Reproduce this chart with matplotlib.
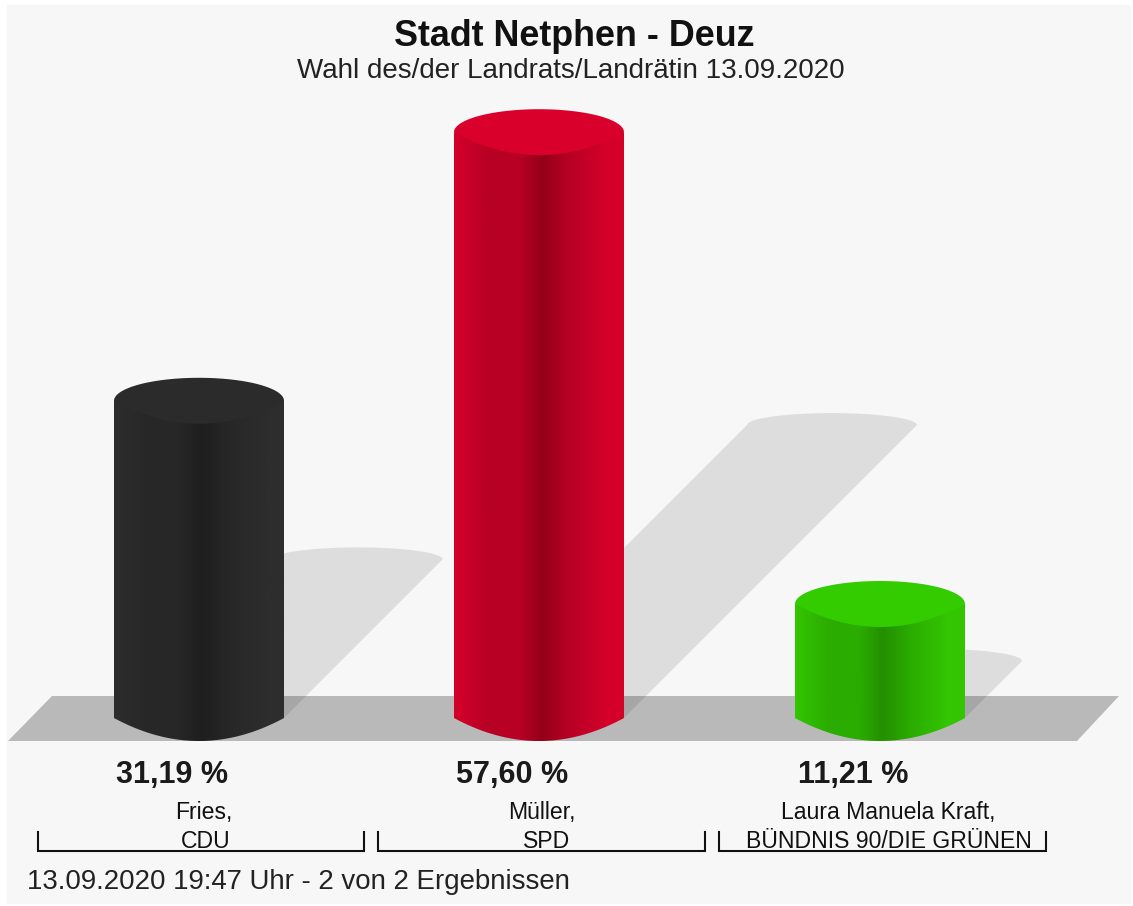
import numpy as np
import matplotlib
matplotlib.use("Agg")
import matplotlib.pyplot as plt
from matplotlib.colors import LinearSegmentedColormap
from matplotlib.patches import Polygon, PathPatch, Rectangle
from matplotlib.path import Path

title = "Stadt Netphen - Deuz"
subtitle = "Wahl des/der Landrats/Landrätin 13.09.2020"
footer = "13.09.2020 19:47 Uhr - 2 von 2 Ergebnissen"
names = ["Fries,", "Müller,", "Laura Manuela Kraft,"]
parties = ["CDU", "SPD", "BÜNDNIS 90/DIE GRÜNEN"]
values = [31.19, 57.60, 11.21]
labels = ["31,19 %", "57,60 %", "11,21 %"]
side_dark = ["#1e1e1e", "#930019", "#238f00"]
side_mid = ["#272727", "#b80025", "#2bac00"]
side_light = ["#2d2d2d", "#d4002a", "#33c600"]
cap = ["#2b2b2b", "#d9002b", "#33cc00"]

W, H = 1133, 906
PX = 10.17          # pixels per percent
Y0 = 718            # baseline pixel row
centers = [199, 539, 880]
RX, RY = 85, 23
SHADOW_RATIO = 0.5  # shadow height relative to the bar
SHADOW_RY = 12

plt.rcParams["font.family"] = ["Liberation Sans"]
fig = plt.figure(figsize=(W / 100, H / 100), dpi=100, facecolor="white")
ax = fig.add_axes([0, 0, 1, 1])
ax.axis("off")
ylim = (-(H - Y0) / PX, Y0 / PX)
ry = RY / PX


def py(p):
    return (Y0 - p) / PX


ax.add_patch(Rectangle((7, py(904)), 1124, py(5) - py(904), fc="#f7f7f7", ec="none", zorder=0))

# floor
ax.add_patch(Polygon([(8, -23 / PX), (1077, -23 / PX), (1119, 22 / PX), (52, 22 / PX)],
                     closed=True, fc="#b9b9b9", ec="none", zorder=1))

# shadows: sheared by 45 degrees, half the bar height
t_up = np.linspace(np.pi, 0, 60)
for c, v in zip(centers, values):
    h = v * SHADOW_RATIO
    dx = h * PX
    arc = np.column_stack([c + dx + RX * np.cos(t_up), h + SHADOW_RY / PX * np.sin(t_up)])
    verts = np.vstack([[(c - RX, 0)], arc, [(c + RX, 0)]])
    ax.add_patch(Polygon(verts, closed=True, fc="black", alpha=0.10, ec="none", zorder=2))

# cylinders
for c, v, d, m, l, k in zip(centers, values, side_dark, side_mid, side_light, cap):
    cmap = LinearSegmentedColormap.from_list(
        "c", [(0, l), (0.2, m), (0.38, m), (0.52, d), (0.68, m), (0.9, l), (1, l)])
    grad = np.linspace(0, 1, 256)[None, :]
    im = ax.imshow(grad, cmap=cmap, aspect="auto", extent=(c - RX, c + RX, -ry, v),
                   interpolation="bilinear", zorder=4)
    xs = np.linspace(-RX, RX, 81)
    lens = ry * (1 - (xs / RX) ** 2)
    lower = np.column_stack([c + xs, -lens])
    verts = np.vstack([[(c - RX, v)], lower, [(c + RX, v)], [(c - RX, v)]])
    codes = [Path.MOVETO] + [Path.LINETO] * (len(verts) - 2) + [Path.CLOSEPOLY]
    clip = PathPatch(Path(verts, codes), transform=ax.transData, fc="none", ec="none")
    ax.add_patch(clip)
    im.set_clip_path(clip)
    # cap: elliptical upper edge, shallow lens lower edge
    t = np.linspace(np.pi, 0, 60)
    upper = np.column_stack([c + RX * np.cos(t), v + ry * np.sin(t)])
    under = np.column_stack([c + xs[::-1], v - lens[::-1]])
    ax.add_patch(Polygon(np.vstack([upper, under]), closed=True, fc=k, ec="none", zorder=5))

ax.set_xlim(0, W)
ax.set_ylim(*ylim)

ax.text(574, py(37), title, ha="center", va="center", fontsize=25.8, fontweight="bold", color="#111111")
ax.text(571, py(71), subtitle, ha="center", va="center", fontsize=20, color="#222222")

value_x = [172, 512, 853]
for x, s in zip(value_x, labels):
    ax.text(x, py(775), s, ha="center", va="center", fontsize=22, fontweight="bold", color="#1a1a1a")

bx = [(38, 364), (378, 705), (719, 1046)]
name_x = [203.5, 542, 888]
party_x = [206, 547, 889]
for (a, b), n, p, nx, px in zip(bx, names, parties, name_x, party_x):
    ax.text(nx, py(813), n, ha="center", va="center", fontsize=16.6, color="#111111")
    ax.text(px, py(842), p, ha="center", va="center", fontsize=16.6, color="#111111")
    ax.plot([a, a, b, b], [py(832), py(851), py(851), py(832)], color="#111111", lw=1.5,
            solid_joinstyle="miter", zorder=3)

ax.text(27, py(882), footer, ha="left", va="center", fontsize=19.9, color="#222222")

fig.savefig("out.png", dpi=100, facecolor=fig.get_facecolor())
